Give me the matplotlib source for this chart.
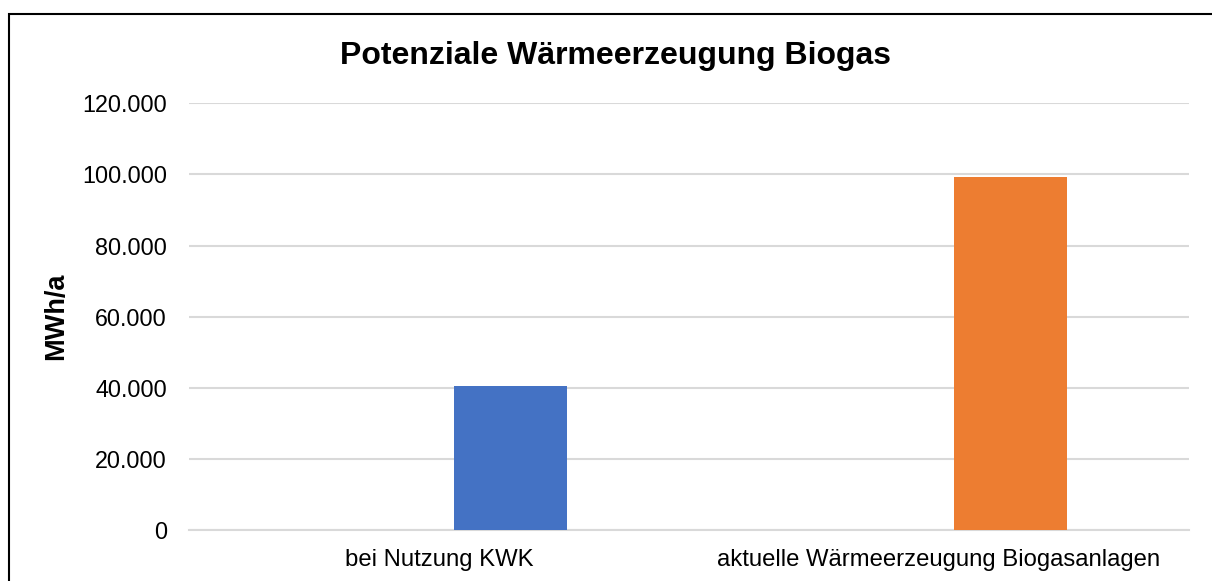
import matplotlib.pyplot as plt
from matplotlib.patches import Rectangle
from matplotlib.ticker import FuncFormatter

plt.rcParams['font.family'] = ['Liberation Sans', 'DejaVu Sans']

# data
categories = ['bei Nutzung KWK', 'aktuelle Wärmeerzeugung Biogasanlagen']
values = [40600, 99300]
colors = ['#4472C4', '#ED7D31']
y_ticks = [0, 20000, 40000, 60000, 80000, 100000, 120000]

fig = plt.figure(figsize=(12.12, 5.81), dpi=100)
ax = fig.add_axes([189 / 1212, 1 - 530 / 581, 1000 / 1212, (530 - 103.3) / 581])

x = list(range(len(categories)))
offset = 0.143  # bars sit right of category centre (empty second slot in the original)
ax.bar([i + offset for i in x], values, width=0.226, color=colors, zorder=3)

ax.set_xlim(-0.5, len(categories) - 0.5)
ax.set_ylim(0, 120000)
ax.set_yticks(y_ticks)
ax.yaxis.set_major_formatter(FuncFormatter(lambda v, p: f'{int(v):,}'.replace(',', '.')))
ax.set_xticks(x)
ax.set_xticklabels(categories)
ax.tick_params(axis='y', length=0, labelsize=16.8, pad=16)
ax.tick_params(axis='x', length=0, labelsize=17.2, pad=14)

ax.grid(axis='y', color='#D9D9D9', linewidth=1.5, zorder=0)
for s in ['top', 'right', 'left']:
    ax.spines[s].set_visible(False)
ax.spines['bottom'].set_color('#D9D9D9')
ax.spines['bottom'].set_linewidth(1.5)

ax.set_ylabel('MWh/a', fontsize=19.5, fontweight='bold', labelpad=9)
fig.text(615 / 1212, 1 - 56 / 581, 'Potenziale Wärmeerzeugung Biogas',
         fontsize=23, fontweight='bold', ha='center', va='center')

# outer chart frame (runs off the right and bottom edge)
fig.patches.append(Rectangle((9 / 1212, -0.1), 1.2, 1 - 13.5 / 581 + 0.1,
                             transform=fig.transFigure, fill=False,
                             edgecolor='black', linewidth=1.5))

fig.savefig('out.png', dpi=100)
